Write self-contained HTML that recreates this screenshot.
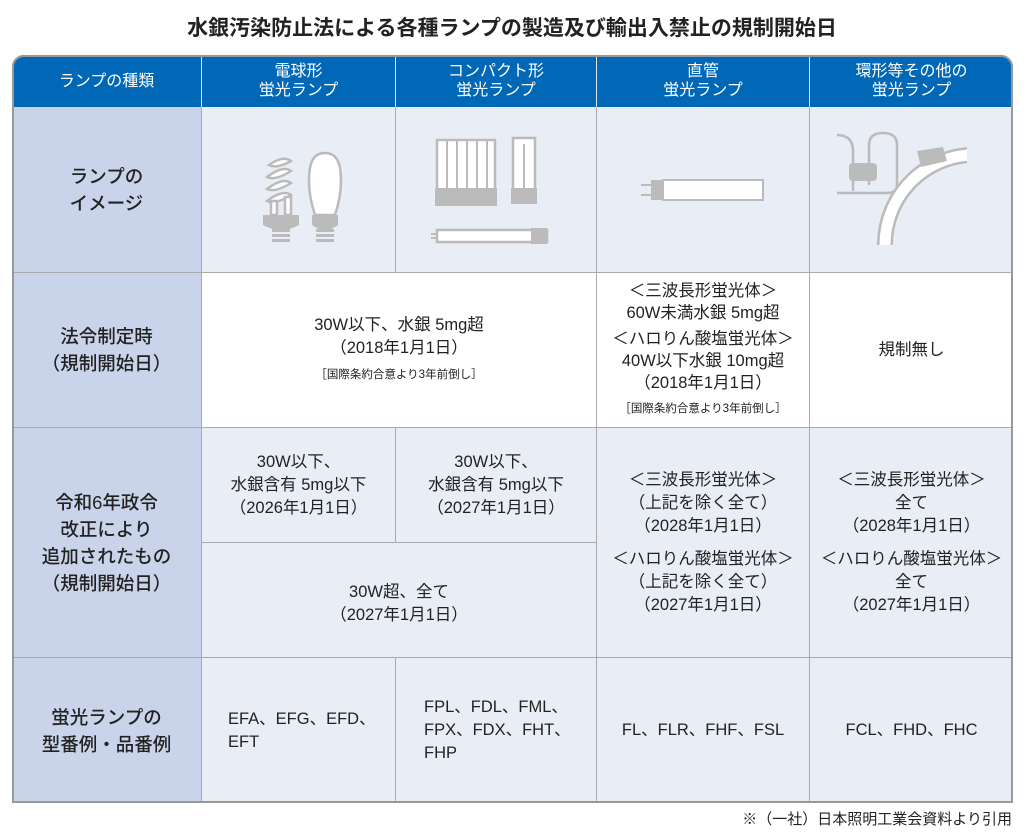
<!DOCTYPE html>
<html><head><meta charset="utf-8"><style>
*{margin:0;padding:0;box-sizing:border-box}
body{width:1024px;height:833px;background:#fff;font-family:"Liberation Sans","Noto Sans CJK JP",sans-serif;color:#222;position:relative;overflow:hidden}
.t{position:absolute;left:0;width:1024px;top:12px;text-align:center;font-size:21px;font-weight:bold;}
.c{position:absolute;display:flex;align-items:center;justify-content:center;text-align:center;font-size:16.5px;line-height:23px;border-right:1.5px solid #aaa;border-bottom:1.5px solid #aaa}
.h{background:#0068b7;color:#fff;font-size:16px;line-height:19px;border-right:1.5px solid #e0e8f4;border-bottom:none}
.f{background:#c9d4ea;font-size:18.5px;line-height:27px;font-weight:500}
.l{background:#e8edf6}
.w{background:#fff}
.s{font-size:11.5px}
.frame{position:absolute;left:12px;top:55px;width:1001px;height:748px;border:2px solid #999;border-radius:12px 12px 0 0;pointer-events:none}
.ft{position:absolute;right:12px;top:808px;font-size:15px}
</style></head><body>
<div class="t">水銀汚染防止法による各種ランプの製造及び輸出入禁止の規制開始日</div>
<div style="position:absolute;left:12px;top:55px;width:1001px;height:748px;border-radius:12px 12px 0 0;overflow:hidden">
<!-- header -->
<div class="c h" style="left:0;top:0;width:190px;height:52px">ランプの種類</div>
<div class="c h" style="left:190px;top:0;width:194px;height:52px">電球形<br>蛍光ランプ</div>
<div class="c h" style="left:384px;top:0;width:201px;height:52px">コンパクト形<br>蛍光ランプ</div>
<div class="c h" style="left:585px;top:0;width:213px;height:52px">直管<br>蛍光ランプ</div>
<div class="c h" style="left:798px;top:0;width:203px;height:52px;border-right:none">環形等その他の<br>蛍光ランプ</div>
<!-- image row -->
<div class="c f" style="left:0;top:52px;width:190px;height:166px">ランプの<br>イメージ</div>
<div class="c l" style="left:190px;top:52px;width:194px;height:166px">
<svg width="120" height="110" viewBox="0 0 120 110">
<g fill="#fff" stroke="#bbb" stroke-width="2.5">
<path d="M30 30 q14-10 22-4 q-14 8-22 4z"/><path d="M28 42 q16-12 24-6 q-16 10-24 6z"/><path d="M28 54 q16-12 24-6 q-16 10-24 6z"/><path d="M28 66 q16-12 24-6 q-16 10-24 6z"/>
<rect x="32" y="66" width="6" height="14"/><rect x="46" y="62" width="6" height="18"/>
<path d="M86 18 c-14 0-16 14-16 28 c0 16 4 28 6 34 h20 c2-6 6-18 6-34 c0-14-2-28-16-28z"/></g>
<g fill="#bbb"><path d="M24 80 h36 v10 q-18 10-36 0z"/><path d="M73 80 h26 v10 q-13 10-26 0z"/>
<rect x="33" y="94" width="18" height="3"/><rect x="33" y="99" width="18" height="3"/><rect x="33" y="104" width="18" height="3"/>
<rect x="77" y="94" width="18" height="3"/><rect x="77" y="99" width="18" height="3"/><rect x="77" y="104" width="18" height="3"/></g></svg></div>
<div class="c l" style="left:384px;top:52px;width:201px;height:166px">
<svg width="130" height="120" viewBox="0 0 130 120">
<g fill="#fff" stroke="#bbb" stroke-width="2.5">
<path d="M6 10 h58 v50 h-58z"/><path d="M82 8 h22 v52 h-22z"/><path d="M6 100 h110 v12 h-110z"/></g>
<g stroke="#bbb" stroke-width="2"><line x1="16" y1="10" x2="16" y2="58"/><line x1="26" y1="10" x2="26" y2="58"/><line x1="36" y1="10" x2="36" y2="58"/><line x1="46" y1="10" x2="46" y2="58"/><line x1="56" y1="10" x2="56" y2="58"/><line x1="93" y1="14" x2="93" y2="58"/>
<line x1="0" y1="104" x2="6" y2="104"/><line x1="0" y1="108" x2="6" y2="108"/></g>
<g fill="#bbb"><rect x="4" y="58" width="62" height="18"/><rect x="80" y="58" width="26" height="16"/><rect x="100" y="98" width="16" height="16"/></g></svg></div>
<div class="c l" style="left:585px;top:52px;width:213px;height:166px">
<svg width="124" height="40" viewBox="0 0 124 40"><g stroke="#bbb" stroke-width="2"><line x1="0" y1="15" x2="12" y2="15"/><line x1="0" y1="25" x2="12" y2="25"/></g><rect x="10" y="10" width="12" height="20" fill="#bbb"/><rect x="22" y="10" width="100" height="20" fill="#fff" stroke="#bbb" stroke-width="2"/></svg></div>
<div class="c l" style="left:798px;top:52px;width:203px;height:166px;border-right:none">
<svg width="130" height="130" viewBox="0 0 130 130" style="margin-left:-20px"><g fill="none" stroke="#bbb" stroke-width="2.5"><path d="M0 10 q16 0 16 16 v40"/><path d="M32 60 v-40 q0-12 14-12 q14 0 14 12 v40 q0 8-10 8 h-50"/></g>
<path d="M48 120 a90 90 0 0 1 95-90" fill="none" stroke="#bbb" stroke-width="16"/><path d="M48 120 a90 90 0 0 1 95-90" fill="none" stroke="#fff" stroke-width="11"/>
<rect x="12" y="38" width="28" height="18" rx="4" fill="#bbb"/><path d="M80 26 l26-4 l4 14 l-26 6z" fill="#bbb"/></svg></div>
<!-- row 2 -->
<div class="c f" style="left:0;top:218px;width:190px;height:155px">法令制定時<br>（規制開始日）</div>
<div class="c w" style="left:190px;top:218px;width:395px;height:155px;flex-direction:column"><div>30W以下、水銀 5mg超<br>（2018年1月1日）</div><div class="s" style="margin-top:4px">［国際条約合意より3年前倒し］</div></div>
<div class="c w" style="left:585px;top:218px;width:213px;height:155px;flex-direction:column;line-height:22px"><div>＜三波長形蛍光体＞<br>60W未満水銀 5mg超</div><div style="margin-top:4px">＜ハロりん酸塩蛍光体＞<br>40W以下水銀 10mg超<br>（2018年1月1日）</div><div class="s" style="margin-top:4px">［国際条約合意より3年前倒し］</div></div>
<div class="c w" style="left:798px;top:218px;width:203px;height:155px;border-right:none">規制無し</div>
<!-- row 3 -->
<div class="c f" style="left:0;top:373px;width:190px;height:230px">令和6年政令<br>改正により<br>追加されたもの<br>（規制開始日）</div>
<div class="c l" style="left:190px;top:373px;width:194px;height:115px">30W以下、<br>水銀含有 5mg以下<br>（2026年1月1日）</div>
<div class="c l" style="left:384px;top:373px;width:201px;height:115px">30W以下、<br>水銀含有 5mg以下<br>（2027年1月1日）</div>
<div class="c l" style="left:190px;top:488px;width:395px;height:115px;padding-top:8px">30W超、全て<br>（2027年1月1日）</div>
<div class="c l" style="left:585px;top:373px;width:213px;height:230px;flex-direction:column"><div>＜三波長形蛍光体＞<br>（上記を除く全て）<br>（2028年1月1日）</div><div style="margin-top:10px">＜ハロりん酸塩蛍光体＞<br>（上記を除く全て）<br>（2027年1月1日）</div></div>
<div class="c l" style="left:798px;top:373px;width:203px;height:230px;border-right:none;flex-direction:column"><div>＜三波長形蛍光体＞<br>全て<br>（2028年1月1日）</div><div style="margin-top:10px">＜ハロりん酸塩蛍光体＞<br>全て<br>（2027年1月1日）</div></div>
<!-- row 4 -->
<div class="c f" style="left:0;top:603px;width:190px;height:145px;border-bottom:none">蛍光ランプの<br>型番例・品番例</div>
<div class="c l" style="left:190px;top:603px;width:194px;height:145px;justify-content:flex-start;padding-left:26px;text-align:left;border-bottom:none">EFA、EFG、EFD、<br>EFT</div>
<div class="c l" style="left:384px;top:603px;width:201px;height:145px;justify-content:flex-start;padding-left:28px;text-align:left;border-bottom:none">FPL、FDL、FML、<br>FPX、FDX、FHT、<br>FHP</div>
<div class="c l" style="left:585px;top:603px;width:213px;height:145px;border-bottom:none">FL、FLR、FHF、FSL</div>
<div class="c l" style="left:798px;top:603px;width:203px;height:145px;border-right:none;border-bottom:none">FCL、FHD、FHC</div>
</div>
<div class="frame"></div>
<div class="ft">※（一社）日本照明工業会資料より引用</div>
</body></html>
